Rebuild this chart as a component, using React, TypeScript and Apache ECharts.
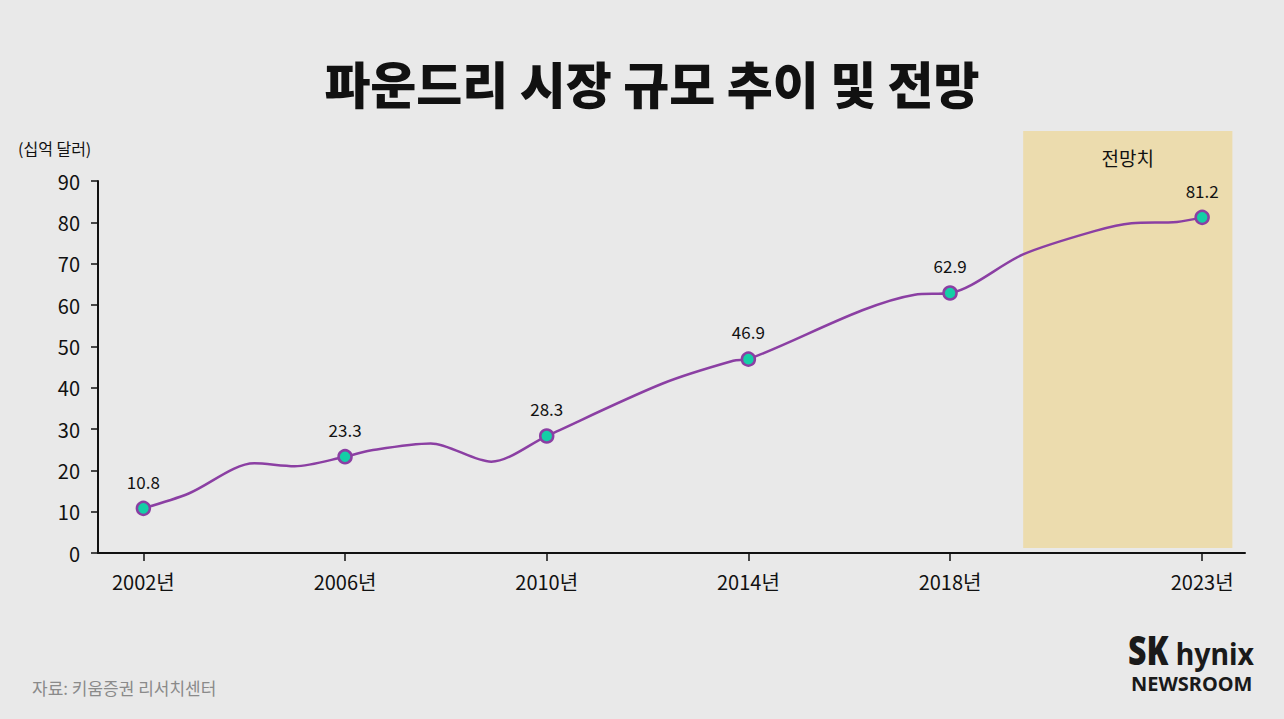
import React, { useEffect, useRef } from "react";
import * as echarts from "echarts";

const TITLE = "파운드리 시장 규모 추이 및 전망";
const UNIT = "(십억 달러)";
const SOURCE = "자료: 키움증권 리서치센터";
const FORECAST_LABEL = "전망치";

// labelled points
const keyYears = [2002, 2006, 2010, 2014, 2018, 2023];
const keyValues = [10.8, 23.3, 28.3, 46.9, 62.9, 81.2];

// full traced curve (years, values)
const curveYears = [2002, 2002.9, 2004.2, 2005.0, 2006, 2006.5, 2007.7, 2008.9, 2010, 2012.3, 2013.7, 2014, 2017.3, 2018, 2019.46, 2020.9, 2021.6, 2022.5, 2023];
const curveValues = [10.8, 14.4, 21.7, 21.0, 23.3, 24.8, 26.5, 22.1, 28.3, 41.0, 46.5, 46.9, 62.5, 62.9, 72.3, 78.0, 79.8, 80.1, 81.2];

const forecastRange = [2019.45, 2023.6];
const yTicks = [0, 90, 10]; // min, max, interval

const FONT = "'Noto Sans CJK KR', 'Noto Sans', sans-serif";
const PURPLE = "#8b3fa3";
const TEAL = "#14cfa6";

export default function App() {
  const ref = useRef<HTMLDivElement>(null);
  useEffect(() => {
    document.body.style.margin = "0";
    const chart = echarts.init(ref.current!, null, { renderer: "svg" });
    chart.setOption({
      animation: false,
      backgroundColor: "#e9e9e9",
      textStyle: { fontFamily: FONT },
      grid: { left: 98, right: 39, top: 181, bottom: 166 },
      xAxis: {
        type: "value",
        min: 2001.1,
        max: 2023.85,
        splitLine: { show: false },
        axisLine: { lineStyle: { color: "#111", width: 2 } },
        axisTick: { show: true, length: 8, lineStyle: { color: "#111", width: 1.5 }, customValues: keyYears },
        axisLabel: {
          customValues: keyYears,
          formatter: (v: number) => `${v}년`,
          fontSize: 20,
          color: "#111",
          margin: 18,
          fontFamily: FONT,
        },
      },
      yAxis: {
        type: "value",
        min: yTicks[0],
        max: yTicks[1],
        interval: yTicks[2],
        splitLine: { show: false },
        axisLine: { show: true, lineStyle: { color: "#111", width: 2 } },
        axisTick: { show: true, length: 7, lineStyle: { color: "#111", width: 1.5 } },
        axisLabel: { fontSize: 20, color: "#111", margin: 18, fontFamily: FONT },
      },
      series: [
        {
          type: "line",
          data: curveYears.map((y, i) => [y, curveValues[i]]),
          smooth: 0.3,
          symbol: "none",
          lineStyle: { color: PURPLE, width: 2.5 },
          z: 3,
        },
        {
          type: "scatter",
          data: keyYears.map((y, i) => [y, keyValues[i]]),
          symbolSize: 13,
          itemStyle: { color: TEAL, borderColor: PURPLE, borderWidth: 2.5, opacity: 1 },
          label: {
            show: true,
            position: "top",
            distance: 11,
            fontSize: 17,
            color: "#111",
            fontFamily: FONT,
            formatter: (p: any) => `${p.value[1]}`,
          },
          z: 4,
        },
      ],
    });
    const x0 = chart.convertToPixel({ xAxisIndex: 0 }, forecastRange[0]) as number;
    const x1 = chart.convertToPixel({ xAxisIndex: 0 }, forecastRange[1]) as number;
    chart.setOption({
      graphic: [
        { type: "rect", z: -10, shape: { x: x0, y: 131, width: x1 - x0, height: 417 }, style: { fill: "#ecdcae" } },
        { type: "text", x: (x0 + x1) / 2, y: 157, style: { text: FORECAST_LABEL, fill: "#111", font: `19px ${FONT}`, textAlign: "center", textVerticalAlign: "middle" } },
        { type: "text", x: 652, y: 82, style: { text: TITLE, fill: "#111", font: `900 50px ${FONT}`, textAlign: "center", textVerticalAlign: "middle" } },
        { type: "text", x: 18, y: 148, style: { text: UNIT, fill: "#111", font: `16px ${FONT}`, textAlign: "left", textVerticalAlign: "middle" } },
        { type: "text", x: 32, y: 687, style: { text: SOURCE, fill: "#8a8a8a", font: `17px ${FONT}`, textAlign: "left", textVerticalAlign: "middle" } },
        { type: "text", x: 1128, y: 650, scaleX: 0.8, style: { text: "SK", fill: "#1a1a1a", font: `900 40px 'Noto Sans', sans-serif`, textAlign: "left", textVerticalAlign: "middle" } },
        { type: "text", x: 1254, y: 653, scaleX: 0.92, style: { text: "hynix", fill: "#1a1a1a", font: `bold 31px 'Noto Sans', sans-serif`, textAlign: "right", textVerticalAlign: "middle" } },
        { type: "text", x: 1131, y: 683, style: { text: "NEWSROOM", fill: "#1a1a1a", font: `bold 20px 'Noto Sans', sans-serif`, textAlign: "left", textVerticalAlign: "middle" } },
      ],
    });
    return () => chart.dispose();
  }, []);
  return (
    <div style={{ position: "absolute", left: 0, top: 0, width: 1284, height: 719 }}>
      <div ref={ref} style={{ width: 1284, height: 719 }} />
    </div>
  );
}
